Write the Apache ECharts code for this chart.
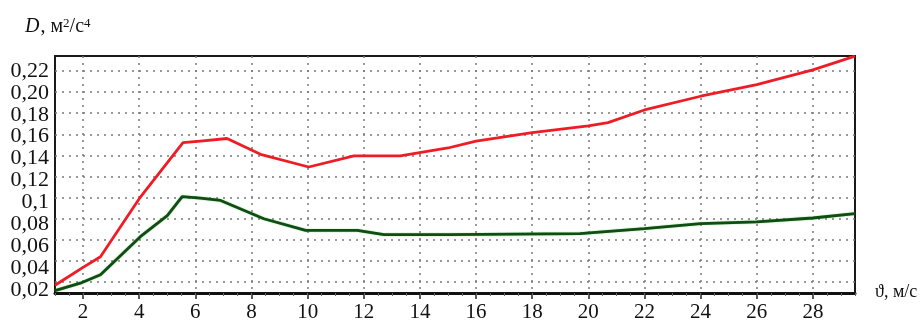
<!DOCTYPE html>
<html>
<head>
<meta charset="utf-8">
<script src="https://cdn.jsdelivr.net/npm/echarts@6/dist/echarts.min.js"></script>
<style>
  html, body { margin: 0; padding: 0; background: #fff; }
  #chart { width: 922px; height: 323px; }
</style>
</head>
<body>
<div id="chart"></div>
<script>
// Flow speed, m/s, and the dispersion D, m²/s⁴, for the upper (red) curve
const redSpeed = [1.0, 2.0, 2.62, 4.0, 5.56, 6.18, 7.13, 8.32, 10.04, 11.65, 13.3, 15.0, 16.0, 18.0, 20.0, 20.7, 22.0, 24.0, 26.0, 28.0, 29.5];
const redD     = [0.017, 0.034, 0.044, 0.099, 0.152, 0.1536, 0.156, 0.141, 0.129, 0.1396, 0.1396, 0.147, 0.1536, 0.1615, 0.168, 0.171, 0.183, 0.196, 0.207, 0.221, 0.234];

// Lower (green) curve
const greenSpeed = [1.0, 1.9, 2.62, 4.04, 5.0, 5.53, 6.18, 6.9, 8.44, 9.93, 11.77, 12.72, 15.0, 19.7, 22.0, 24.0, 26.0, 28.0, 29.5];
const greenD     = [0.012, 0.019, 0.027, 0.063, 0.083, 0.101, 0.0995, 0.0973, 0.080, 0.069, 0.069, 0.065, 0.065, 0.066, 0.0707, 0.0754, 0.077, 0.0807, 0.0848];

// Axis ticks
const speedTicks = [2, 4, 6, 8, 10, 12, 14, 16, 18, 20, 22, 24, 26, 28];
const dTicks = [0.02, 0.04, 0.06, 0.08, 0.10, 0.12, 0.14, 0.16, 0.18, 0.20, 0.22];
const dTickLabels = ['0,02', '0,04', '0,06', '0,08', '0,1', '0,12', '0,14', '0,16', '0,18', '0,20', '0,22'];

const pairs = (xs, ys) => xs.map((x, i) => [x, ys[i]]);
const serif = '"Liberation Serif", "DejaVu Serif", serif';
const dotted = { color: '#7a7a7a', width: 1.5, type: [2, 5] };

const chart = echarts.init(document.getElementById('chart'));
chart.setOption({
  animation: false,
  backgroundColor: '#fff',
  grid: {
    left: 55, right: 67, top: 56, bottom: 28,
    show: true, borderColor: '#1a1a1a', borderWidth: 2, backgroundColor: 'transparent'
  },
  xAxis: [
    {
      type: 'value', min: 1, max: 29.5,
      axisLine: { show: true, onZero: false, lineStyle: { color: '#111', width: 3 } },
      axisTick: { show: true, inside: false, length: 6, customValues: speedTicks, lineStyle: { color: '#222', width: 1.5 } },
      axisLabel: {
        customValues: speedTicks, margin: 9,
        fontFamily: serif, fontSize: 21, color: '#111'
      },
      splitLine: { show: true, lineStyle: dotted }
    },
    {
      // minor ticks every 0.5 m/s
      type: 'value', min: 1, max: 29.5, interval: 0.5, position: 'bottom',
      axisLine: { show: false },
      axisTick: { show: true, length: 3, lineStyle: { color: '#666', width: 1 } },
      axisLabel: { show: false },
      splitLine: { show: false }
    }
  ],
  yAxis: [
    {
      type: 'value', min: 0.0097, max: 0.2341,
      axisLine: { show: false },
      axisTick: { show: false, customValues: dTicks },
      axisLabel: { show: false },
      splitLine: { show: true, lineStyle: dotted }
    },
    {
      // tick labels column
      type: 'value', min: 0.0173, max: 0.2336, position: 'left',
      axisLine: { show: false },
      axisTick: { show: false, customValues: dTicks },
      axisLabel: {
        customValues: dTicks, margin: 6,
        fontFamily: serif, fontSize: 22, color: '#111',
        formatter: v => {
          const i = dTicks.findIndex(t => Math.abs(t - v) < 1e-6);
          return i >= 0 ? dTickLabels[i] : '';
        }
      },
      splitLine: { show: false }
    }
  ],
  series: [
    {
      type: 'line', xAxisIndex: 0, yAxisIndex: 0,
      data: pairs(redSpeed, redD),
      showSymbol: false, smooth: false,
      lineStyle: { color: '#ee1c24', width: 2.8 }
    },
    {
      type: 'line', xAxisIndex: 0, yAxisIndex: 0,
      data: pairs(greenSpeed, greenD),
      showSymbol: false, smooth: false,
      lineStyle: { color: '#0f4d12', width: 2.8, shadowColor: 'rgba(40,170,40,0.6)', shadowBlur: 1.5 }
    }
  ],
  graphic: [
    {
      type: 'text', left: 25, top: 17,
      style: {
        text: '{d|D}{n|, м}{s|2}{n|/с}{s|4}',
        rich: {
          d: { fontFamily: serif, fontStyle: 'italic', fontSize: 20, fill: '#111', verticalAlign: 'bottom', lineHeight: 20, padding: [0, 1, 0, 0] },
          n: { fontFamily: serif, fontSize: 20, fill: '#111', verticalAlign: 'bottom', lineHeight: 20 },
          s: { fontFamily: serif, fontSize: 13, fill: '#111', verticalAlign: 'top', lineHeight: 20 }
        }
      }
    },
    {
      type: 'text', left: 875, top: 283,
      style: { text: 'ϑ, м/с', fontFamily: serif, fontSize: 18, fill: '#111' }
    }
  ]
});
</script>
</body>
</html>
